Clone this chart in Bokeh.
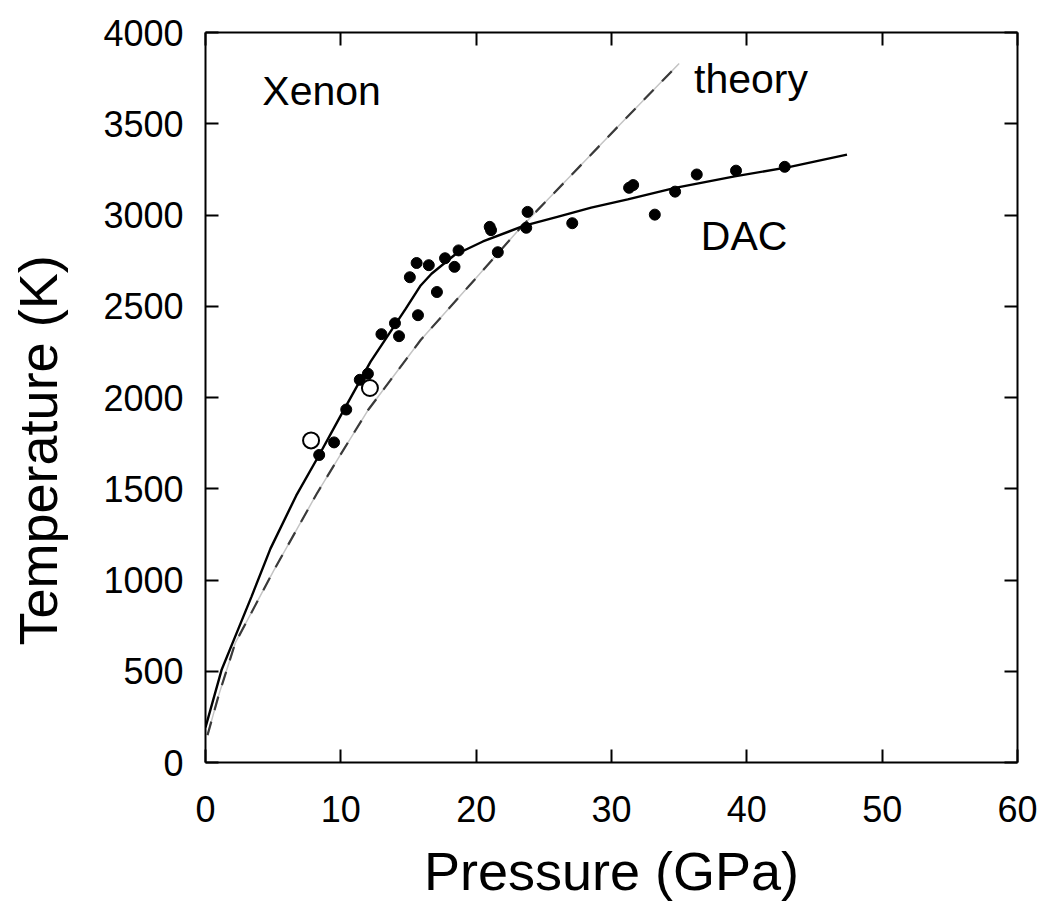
from bokeh.plotting import figure
from bokeh.models import Range1d, LinearAxis, FixedTicker, Label, Title
from bokeh.embed import file_html
from bokeh.resources import INLINE

# ---- data ----
dac_pressure = [8.4, 9.5, 10.4, 11.4, 12.0, 13.0, 14.0, 14.3, 15.1, 15.6, 15.7, 16.5, 17.1,
                17.7, 18.4, 18.7, 21.0, 21.1, 21.6, 23.7, 23.8, 27.1, 31.3, 31.6, 33.2,
                34.7, 36.3, 39.2, 42.8]
dac_temperature = [1685, 1754, 1934, 2097, 2130, 2347, 2407, 2336, 2659, 2737, 2451, 2725, 2578,
                   2763, 2716, 2806, 2935, 2917, 2796, 2930, 3017, 2955, 3149, 3164, 3002,
                   3128, 3222, 3243, 3264]

open_pressure = [7.8, 12.15]
open_temperature = [1765, 2052]

dac_fit_pressure = [0, 1.2, 2.2, 3.4, 4.8, 6.7, 8.4, 9.9, 12.2, 14.8, 15.9, 16.7, 18.4, 20.5,
                    23.5, 26, 28.5, 31.2, 34.7, 39.1, 43.1, 47.4]
dac_fit_temperature = [192, 510, 691, 909, 1172, 1462, 1685, 1888, 2197, 2487, 2614, 2678, 2781,
                       2855, 2940, 2990, 3040, 3086, 3149, 3212, 3262, 3331]

theory_pressure = [0.15, 0.96, 2.2, 3.9, 5.06, 8.2, 10.0, 12.0, 15.9, 19.4, 23.3, 27.0, 31.0, 35.0]
theory_temperature = [150, 365, 655, 892, 1054, 1470, 1690, 1930, 2315, 2605, 2932, 3216, 3525, 3830]

x_ticks = [0, 10, 20, 30, 40, 50, 60]
y_ticks = [0, 500, 1000, 1500, 2000, 2500, 3000, 3500, 4000]

FONT = "Liberation Sans"

p = figure(width=1040, height=903, x_range=Range1d(0, 60), y_range=Range1d(0, 4000),
           output_backend="svg", toolbar_location=None,
           min_border_left=205, min_border_right=23, min_border_top=32, min_border_bottom=136)
p.grid.visible = False
p.outline_line_color = None
p.background_fill_color = "white"
p.border_fill_color = "white"

def style_axis(ax):
    ax.axis_line_width = 2
    ax.axis_line_color = "black"
    ax.major_tick_in = 13
    ax.major_tick_out = 0
    ax.major_tick_line_width = 2
    ax.major_tick_line_color = "black"
    ax.minor_tick_line_color = None
    ax.major_label_text_font = FONT
    ax.major_label_text_color = "black"
    ax.major_label_text_font_size = "36px"

xa = p.xaxis[0]
ya = p.yaxis[0]
xa.ticker = FixedTicker(ticks=x_ticks)
ya.ticker = FixedTicker(ticks=y_ticks)
style_axis(xa)
style_axis(ya)
xa.major_label_standoff = 33
ya.major_label_standoff = 22
xa.axis_label = "Pressure (GPa)"
xa.axis_label_text_font = FONT
xa.axis_label_text_font_size = "54px"
xa.axis_label_text_font_style = "normal"
xa.axis_label_text_color = "black"
xa.axis_label_standoff = 16

# invisible spacer between the y tick labels and the y title (white tick on white border)
spacer = LinearAxis(ticker=FixedTicker(ticks=[2000]))
spacer.axis_line_color = None
spacer.major_tick_line_color = "white"
spacer.major_tick_line_width = 1
spacer.minor_tick_line_color = None
spacer.major_tick_in = 0
spacer.major_tick_out = 33
spacer.minor_tick_out = 0
spacer.major_label_standoff = 0
spacer.major_label_overrides = {2000: ""}
p.add_layout(spacer, "left")

# y-axis title, set a little below the frame centre as in the reference
ytitle = Title(text="Temperature (K)", align="left", offset=117, standoff=0,
               text_font=FONT, text_font_size="54px", text_font_style="normal",
               text_color="black")
p.add_layout(ytitle, "left")

top = LinearAxis(ticker=FixedTicker(ticks=x_ticks))
right = LinearAxis(ticker=FixedTicker(ticks=y_ticks))
for ax, ticks in ((top, x_ticks), (right, y_ticks)):
    style_axis(ax)
    ax.major_label_overrides = {t: "" for t in ticks}
    ax.major_label_standoff = 0
p.add_layout(top, "above")
p.add_layout(right, "right")

# theory curve: light solid under a dark dashed line
p.line(theory_pressure, theory_temperature, line_color="#c4c4c4", line_width=1.5)
p.line(theory_pressure, theory_temperature, line_color="#3a3a3a", line_width=2.2, line_dash="14 12")

# DAC fit line
p.line(dac_fit_pressure, dac_fit_temperature, line_color="black", line_width=2.4)

# data points
p.scatter(dac_pressure, dac_temperature, size=11, fill_color="black", line_color="black")
p.scatter(open_pressure, open_temperature, size=16, fill_color="white", line_color="black", line_width=2)

for txt, x, y in [("Xenon", 4.2, 3680), ("theory", 36.1, 3745), ("DAC", 36.6, 2886)]:
    p.add_layout(Label(x=x, y=y, text=txt, text_font=FONT, text_font_size="41px",
                       text_color="black", text_baseline="alphabetic", text_align="left"))

open("out.html", "w").write(file_html(p, INLINE))
